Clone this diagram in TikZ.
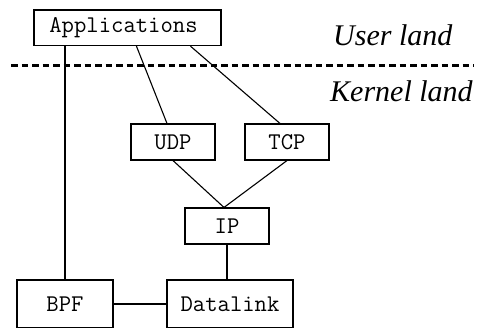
\documentclass[tikz,border=0pt]{standalone}
\usepackage{fontspec}
\setmainfont{Liberation Serif}
\usetikzlibrary{calc}
\begin{document}
\begin{tikzpicture}[x=1pt,y=-1pt,
  layer/.style={draw,line width=1.1pt,inner sep=0pt,font=\ttfamily\fontsize{24}{26}\selectfont},
  link/.style={line width=1.1pt},
  zone/.style={font=\itshape\fontsize{30}{33}\selectfont,anchor=base west,inner sep=0pt}]
  \useasboundingbox (0,0) rectangle (479,327);
  \clip (0,0) rectangle (479,327);

  % protocol stack boxes
  \node[layer,minimum width=187pt,minimum height=35.6pt] (app) at (127.5,27.8) {Applications\hspace*{8pt}};
  \node[layer,minimum width=84pt,minimum height=36pt] (udp) at (173,142) {UDP};
  \node[layer,minimum width=84pt,minimum height=36pt] (tcp) at (287,142) {TCP};
  \node[layer,minimum width=84pt,minimum height=36pt] (ip) at (227,226) {IP};
  \node[layer,minimum width=96pt,minimum height=48pt] (bpf) at (65,304) {BPF};
  \node[layer,minimum width=126pt,minimum height=48pt] (dl) at (230,304) {Datalink};

  % boundary between user space and kernel
  \coordinate (sepL) at (11,65);
  \coordinate (sepR) at (474,65);
  \draw[line width=3pt,dash pattern=on 6.5pt off 4pt] (sepL) -- (sepR);
  \node[zone] (user) at (333,45) {User land};
  \node[zone] (kern) at (330,101) {Kernel land};

  % connections
  \draw[link] (bpf.north) -- (bpf.north |- app.south);
  \draw[link] ($(app.south west)+(103,0)$) -- ($(udp.north)+(-6,0)$);
  \draw[link] ($(app.south west)+(157,0)$) -- ($(tcp.north)+(-7,0)$);
  \draw[link] (udp.south) -- ($(ip.north)+(-3,0)$);
  \draw[link] (tcp.south) -- ($(ip.north)+(-3,0)$);
  \draw[link] (ip.south) -- (ip.south |- dl.north);
  \draw[link] (bpf.east) -- (dl.west);
\end{tikzpicture}
\end{document}
